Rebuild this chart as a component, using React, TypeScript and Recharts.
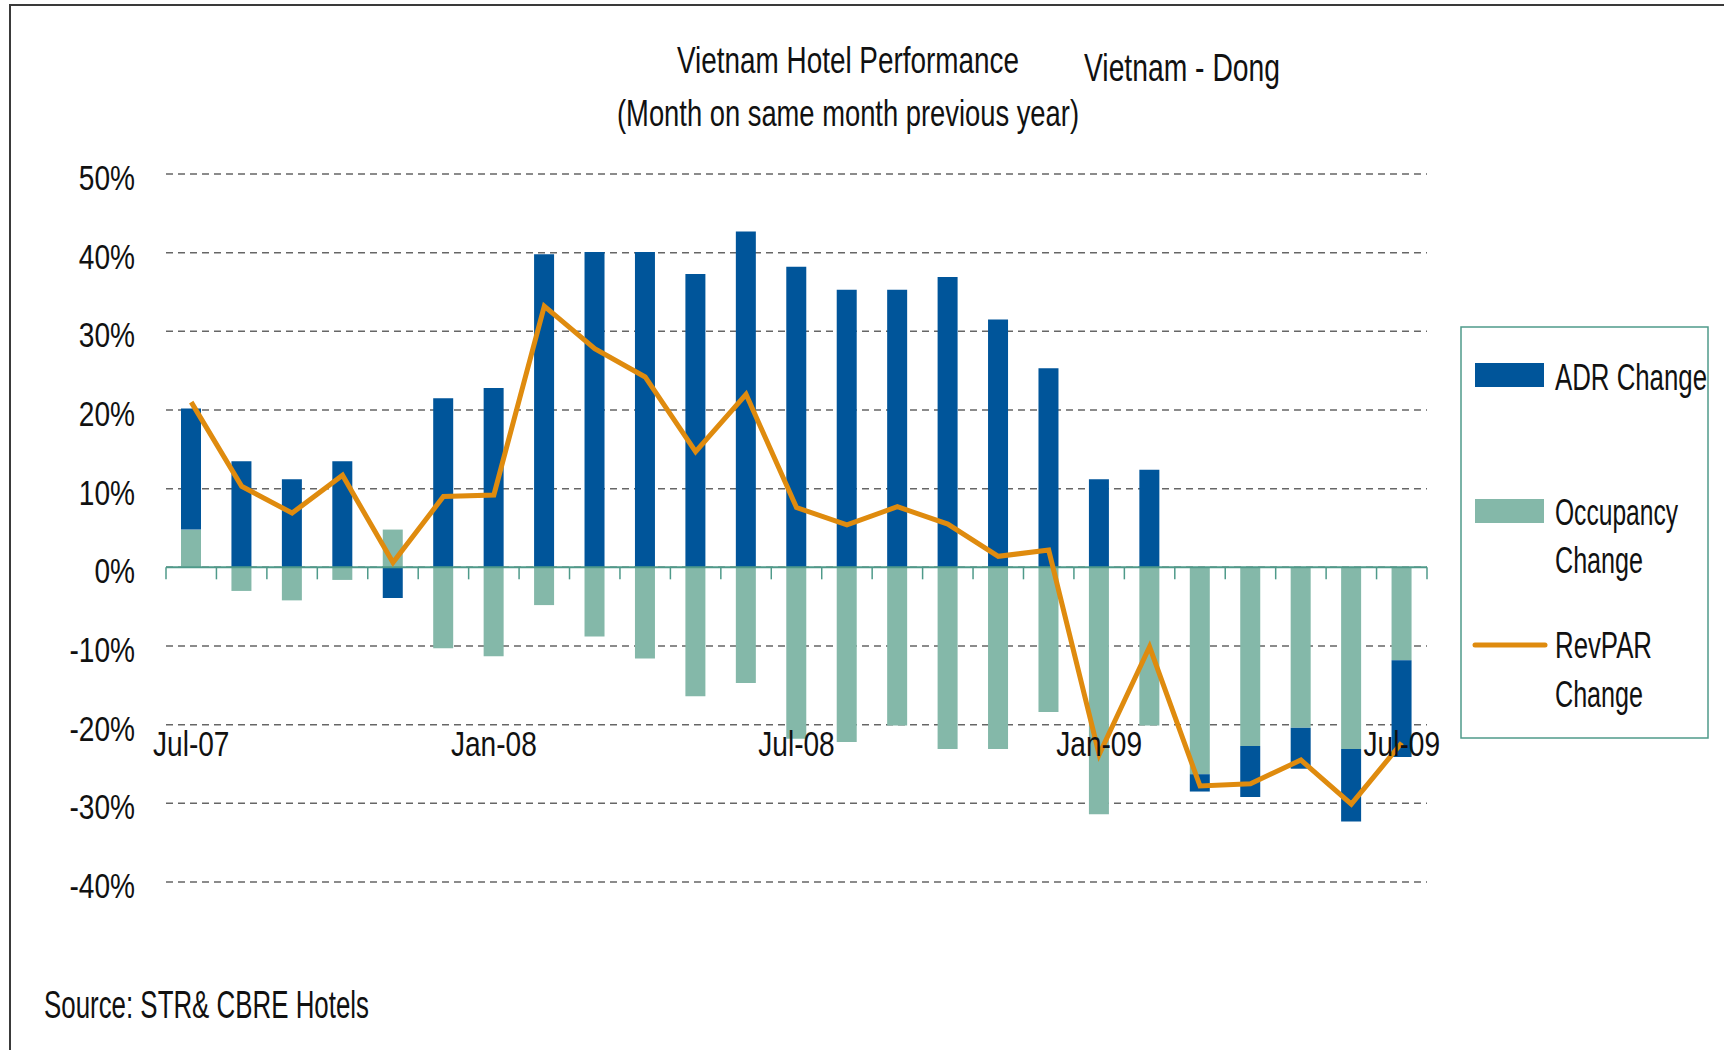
import { Bar, CartesianGrid, ComposedChart, Line, ReferenceLine, XAxis, YAxis } from "recharts";

// Month on same month previous year, in percent
const months = [
  "Jul-07", "Aug-07", "Sep-07", "Oct-07", "Nov-07", "Dec-07", "Jan-08", "Feb-08", "Mar-08",
  "Apr-08", "May-08", "Jun-08", "Jul-08", "Aug-08", "Sep-08", "Oct-08", "Nov-08", "Dec-08",
  "Jan-09", "Feb-09", "Mar-09", "Apr-09", "May-09", "Jun-09", "Jul-09",
];
const adrChange = [
  15.4, 13.5, 11.2, 13.5, -3.9, 21.5, 22.8, 39.8, 40.1, 40.1, 37.3, 42.7, 38.2, 35.3, 35.3,
  36.9, 31.5, 25.3, 11.2, 12.4, -2.2, -6.5, -5.2, -9.2, -12.3,
];
const occupancyChange = [
  4.8, -3.0, -4.2, -1.6, 4.8, -10.3, -11.3, -4.8, -8.8, -11.6, -16.4, -14.7, -21.8, -22.2,
  -20.1, -23.1, -23.1, -18.4, -31.4, -20.1, -26.3, -22.7, -20.4, -23.1, -11.8,
];
const revparChange = [
  21.0, 10.3, 6.9, 11.7, 0.6, 9.0, 9.2, 33.2, 27.8, 24.2, 14.7, 22.0, 7.6, 5.4, 7.7, 5.5,
  1.4, 2.2, -23.8, -10.1, -27.8, -27.5, -24.5, -30.1, -22.3,
];
const yTicks = [-40, -30, -20, -10, 0, 10, 20, 30, 40, 50];
const labelledMonths = ["Jul-07", "Jan-08", "Jul-08", "Jan-09", "Jul-09"];

const data = months.map((month, i) => ({
  month,
  adr: adrChange[i],
  occupancy: occupancyChange[i],
  revpar: revparChange[i],
}));

const ADR_COLOR = "#00559a";
const OCC_COLOR = "#84b8a9";
const REVPAR_COLOR = "#df8b0e";
const AXIS_COLOR = "#4f9a8a";
const FONT = "'Liberation Sans', Arial, sans-serif";
// the source font is a condensed face; squeeze Liberation Sans to match
const SQUEEZE = 0.78;

const W = 1724;
const H = 1050;
const PLOT_LEFT = 166;
const PLOT_RIGHT = 1427;
const PLOT_TOP = 174;
const PLOT_BOTTOM = 882;
const BAND = (PLOT_RIGHT - PLOT_LEFT) / months.length;
const ZERO_Y = PLOT_TOP + ((PLOT_BOTTOM - PLOT_TOP) * 50) / 90;

function Narrow({ x, y, anchor = "start", children }: any) {
  return (
    <text
      transform={`translate(${x},${y}) scale(${SQUEEZE},1)`}
      textAnchor={anchor}
      fontFamily={FONT}
      fontSize={36}
      fill="#111"
    >
      {children}
    </text>
  );
}

function YTick({ y, payload }: any) {
  return <Narrow x={PLOT_LEFT - 31} y={y + 16} anchor="end">{`${payload.value}%`}</Narrow>;
}

function XTick({ x, payload, index }: any) {
  const left = x - BAND / 2;
  return (
    <g>
      <line x1={left} x2={left} y1={ZERO_Y} y2={ZERO_Y + 12} stroke={AXIS_COLOR} strokeWidth={1.5} />
      {index === months.length - 1 && (
        <line x1={left + BAND} x2={left + BAND} y1={ZERO_Y} y2={ZERO_Y + 12} stroke={AXIS_COLOR} strokeWidth={1.5} />
      )}
      {labelledMonths.includes(payload.value) && (
        <Narrow x={x} y={756} anchor="middle">{payload.value}</Narrow>
      )}
    </g>
  );
}

function Txt({ x, y, w, children, anchor = "start", size = 36 }: any) {
  return (
    <text
      x={x}
      y={y}
      textAnchor={anchor}
      fontFamily={FONT}
      fontSize={size}
      fill="#111"
      textLength={w}
      lengthAdjust="spacingAndGlyphs"
    >
      {children}
    </text>
  );
}

export default function App() {
  return (
    <div style={{ position: "fixed", left: 0, top: 0, width: W, height: H, overflow: "hidden", background: "#fff" }}>
      <div
        style={{
          position: "absolute",
          left: 9,
          top: 4,
          width: W,
          height: H,
          borderLeft: "2px solid #3a3a3a",
          borderTop: "2px solid #3a3a3a",
        }}
      />
      <div style={{ position: "absolute", left: 0, top: 0 }}>
        <ComposedChart
          width={W}
          height={H}
          data={data}
          stackOffset="sign"
          margin={{ top: PLOT_TOP, right: W - PLOT_RIGHT, bottom: H - PLOT_BOTTOM - 1, left: 0 }}
        >
          <CartesianGrid vertical={false} stroke="#666" strokeWidth={1.5} strokeDasharray="7 5" />
          <XAxis
            dataKey="month"
            height={1}
            interval={0}
            axisLine={false}
            tickLine={false}
            tick={<XTick />}
          />
          <YAxis
            width={PLOT_LEFT}
            domain={[-40, 50]}
            ticks={yTicks}
            axisLine={false}
            tickLine={false}
            tick={<YTick />}
          />
          <Bar dataKey="occupancy" stackId="a" fill={OCC_COLOR} barSize={20} isAnimationActive={false} />
          <Bar dataKey="adr" stackId="a" fill={ADR_COLOR} barSize={20} isAnimationActive={false} />
          <ReferenceLine y={0} stroke={AXIS_COLOR} strokeWidth={2} />
          <Line
            dataKey="revpar"
            stroke={REVPAR_COLOR}
            strokeWidth={5}
            dot={false}
            isAnimationActive={false}
          />
        </ComposedChart>
      </div>
      <svg width={W} height={H} style={{ position: "absolute", left: 0, top: 0, pointerEvents: "none" }}>
        <Txt x={848} y={73} w={342} anchor="middle">Vietnam Hotel Performance</Txt>
        <Txt x={848} y={126} w={462} anchor="middle">(Month on same month previous year)</Txt>
        <Txt x={1084} y={81} w={196} size={38}>Vietnam - Dong</Txt>
        <Txt x={44} y={1018} w={325} size={38}>Source: STR&amp; CBRE Hotels</Txt>

        <rect x={1461} y={327} width={247} height={411} fill="none" stroke={AXIS_COLOR} strokeWidth={1.5} />
        <rect x={1475} y={363} width={69} height={24} fill={ADR_COLOR} />
        <Txt x={1555} y={390} w={152}>ADR Change</Txt>
        <rect x={1475} y={499} width={69} height={24} fill={OCC_COLOR} />
        <Txt x={1555} y={525} w={123}>Occupancy</Txt>
        <Txt x={1555} y={573} w={88}>Change</Txt>
        <line x1={1475} x2={1545} y1={645} y2={645} stroke={REVPAR_COLOR} strokeWidth={5} strokeLinecap="round" />
        <Txt x={1555} y={658} w={97}>RevPAR</Txt>
        <Txt x={1555} y={707} w={88}>Change</Txt>
      </svg>
    </div>
  );
}
